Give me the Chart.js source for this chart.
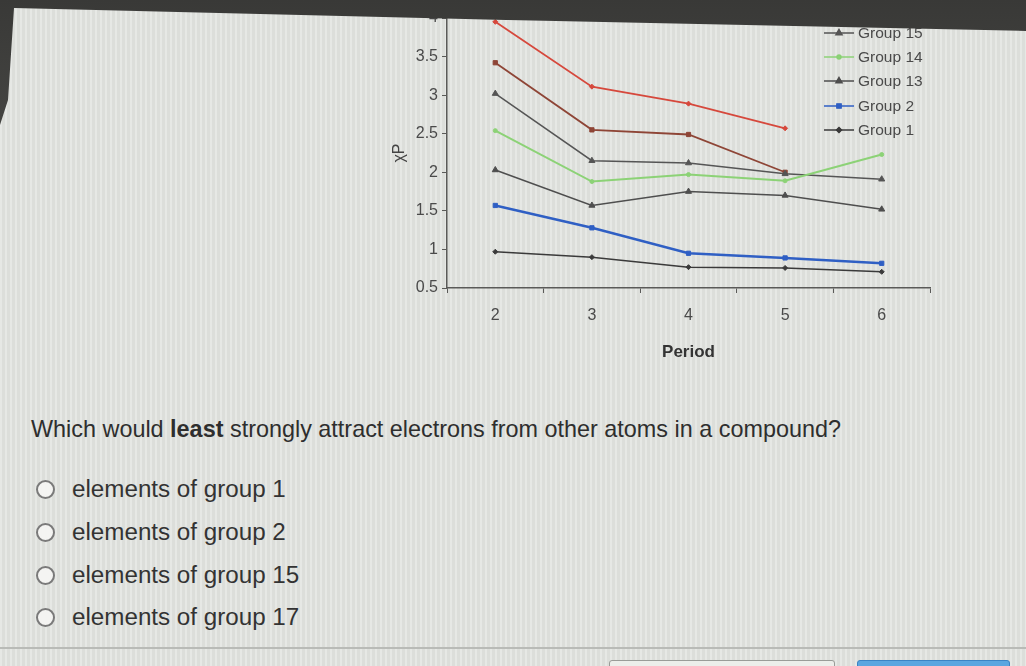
<!DOCTYPE html>
<html>
<head>
<meta charset="utf-8">
<script src="https://cdn.jsdelivr.net/npm/chart.js@4/dist/chart.umd.min.js"></script>
<style>
  html, body { margin: 0; padding: 0; }
  body {
    width: 1026px; height: 666px; overflow: hidden; position: relative;
    font-family: "Liberation Sans", Arial, sans-serif;
    background: #e1e3df;
    background-image: repeating-linear-gradient(90deg, rgba(255,255,255,0.18) 0 2px, rgba(0,0,0,0.025) 2px 5px);
  }
  #chart-box { position: absolute; left: 380px; top: 0; width: 560px; height: 375px; }
  #legend { position: absolute; left: 822px; top: 0; font-size: 15.5px; color: #4a4a4a; }
  #legend .item { position: absolute; left: 0; height: 20px; width: 120px; white-space: nowrap; }
  #legend canvas { position: absolute; left: 0; top: 2px; }
  #legend span { position: absolute; left: 36px; top: 0; line-height: 18px; }
  #frame {
    position: absolute; left: 0; top: 0; width: 1026px; height: 200px;
    background: linear-gradient(180deg, #393937, #4b4b48);
    clip-path: polygon(0 0, 1026px 0, 1026px 31px, 506px 20px, 14px 8px, 8px 100px, 0 125px);
  }
  #question { position: absolute; left: 31px; top: 416px; font-size: 23.4px; color: #2e2e2e; }
  .opt { position: absolute; left: 36px; font-size: 24.2px; color: #333; }
  .opt i {
    display: inline-block; width: 15px; height: 15px; border: 2px solid #7a7a7a; border-radius: 50%;
    background: #f4f4f2; vertical-align: -2px; margin-right: 17px;
  }
  #rule { position: absolute; left: 0; top: 647px; width: 1026px; height: 2px; background: #b9bbb7; }
  #btn1 { position: absolute; left: 609px; top: 660px; width: 224px; height: 20px; border: 1px solid #9a9c98; border-radius: 3px; background: #eceeea; }
  #btn2 { position: absolute; left: 857px; top: 660px; width: 151px; height: 20px; border: 1px solid #3b84c4; border-radius: 3px; background: #5aa6e0; }
</style>
</head>
<body>
<div id="chart-box"><canvas id="xp-chart" width="560" height="375"></canvas></div>
<div id="legend"></div>
<div id="frame"></div>

<div id="question">Which would <b>least</b> strongly attract electrons from other atoms in a compound?</div>
<div class="opt" style="top:475px"><i></i>elements of group 1</div>
<div class="opt" style="top:518px"><i></i>elements of group 2</div>
<div class="opt" style="top:561px"><i></i>elements of group 15</div>
<div class="opt" style="top:603px"><i></i>elements of group 17</div>
<div id="rule"></div>
<div id="btn1"></div>
<div id="btn2"></div>

<script>
const periods = ['2', '3', '4', '5', '6']
const yTicks = [0.5, 1, 1.5, 2, 2.5, 3, 3.5, 4]

const group1 = [0.97, 0.9, 0.77, 0.76, 0.71]
const group2 = [1.57, 1.28, 0.95, 0.89, 0.82]
const group13 = [2.03, 1.57, 1.75, 1.7, 1.52]
const group14 = [2.54, 1.88, 1.97, 1.89, 2.23]
const group15 = [3.02, 2.15, 2.12, 1.98, 1.91]
const group16 = [3.42, 2.55, 2.49, 2.0, null]
const group17 = [3.95, 3.11, 2.89, 2.57, null]

Chart.defaults.font.family = 'Liberation Sans'
Chart.defaults.font.size = 15

initChart()

function series(label, data, color, pointStyle, radius, width) {
  return {
    label,
    data,
    borderColor: color,
    backgroundColor: color,
    borderWidth: width,
    pointStyle,
    pointRadius: radius,
    pointBorderWidth: 1,
  }
}

function initChart() {
  const ctx = document.getElementById('xp-chart')
  const axisColor = '#5a5a58'

  const chart = new Chart(ctx, {
    type: 'line',
    data: {
      labels: periods,
      datasets: [
        series('Group 1', group1, '#3a3a3a', 'rectRot', 2.5, 1.5),
        series('Group 2', group2, '#2f5fc4', 'rect', 3, 2.5),
        series('Group 13', group13, '#4e4e4e', 'triangle', 3.5, 1.5),
        series('Group 14', group14, '#8cd276', 'circle', 2, 2),
        series('Group 15', group15, '#555555', 'triangle', 3.5, 1.5),
        series('Group 16', group16, '#8e4536', 'rect', 3, 1.8),
        series('Group 17', group17, '#d6483c', 'rectRot', 2.5, 1.8),
      ],
    },
    options: {
      responsive: false,
      animation: false,
      spanGaps: false,
      layout: { padding: { top: 18, right: 10, left: 0, bottom: 0 } },
      plugins: { legend: { display: false }, tooltip: { enabled: false } },
      scales: {
        x: {
          offset: true,
          border: { color: axisColor, width: 1.5 },
          grid: { drawOnChartArea: false, drawTicks: true, tickLength: 5, color: axisColor, offset: true },
          ticks: { color: '#4a4a4a', font: { size: 16 }, padding: 13 },
          title: {
            display: true, text: 'Period', color: '#333',
            font: { size: 17, weight: 'bold' },
            padding: { top: 12, bottom: 12 },
          },
          afterFit: (scale) => { scale.height = 87 },
        },
        y: {
          min: 0.5,
          max: 4,
          afterBuildTicks: (scale) => { scale.ticks = yTicks.map((v) => ({ value: v })) },
          border: { color: axisColor, width: 1.5 },
          grid: { drawOnChartArea: false, drawTicks: true, tickLength: 5, color: axisColor },
          ticks: { color: '#4a4a4a', font: { size: 16 }, padding: 4, callback: (v) => String(v) },
          title: {
            display: true, text: 'χP', color: '#444',
            font: { size: 16 },
            padding: { top: 10, bottom: 4 },
          },
          afterFit: (scale) => { scale.width = 67 },
        },
      },
    },
  })

  buildLegend(chart)
}

function buildLegend(chart) {
  const legend = document.getElementById('legend')
  const sets = chart.data.datasets.slice().reverse()
  const firstTop = -25
  const step = 24.3
  sets.forEach((ds, i) => {
    const item = document.createElement('div')
    item.className = 'item'
    item.style.top = (firstTop + i * step) + 'px'
    const c = document.createElement('canvas')
    c.width = 34
    c.height = 14
    const g = c.getContext('2d')
    g.strokeStyle = ds.borderColor
    g.lineWidth = 1.5
    g.beginPath()
    g.moveTo(2, 7)
    g.lineTo(32, 7)
    g.stroke()
    Chart.helpers.drawPoint(g, { pointStyle: ds.pointStyle, radius: ds.pointRadius, rotation: 0, borderWidth: 1 }, 17, 7)
    g.fillStyle = ds.backgroundColor
    g.fill()
    item.appendChild(c)
    const label = document.createElement('span')
    label.textContent = ds.label
    item.appendChild(label)
    legend.appendChild(item)
  })
}
</script>
</body>
</html>
